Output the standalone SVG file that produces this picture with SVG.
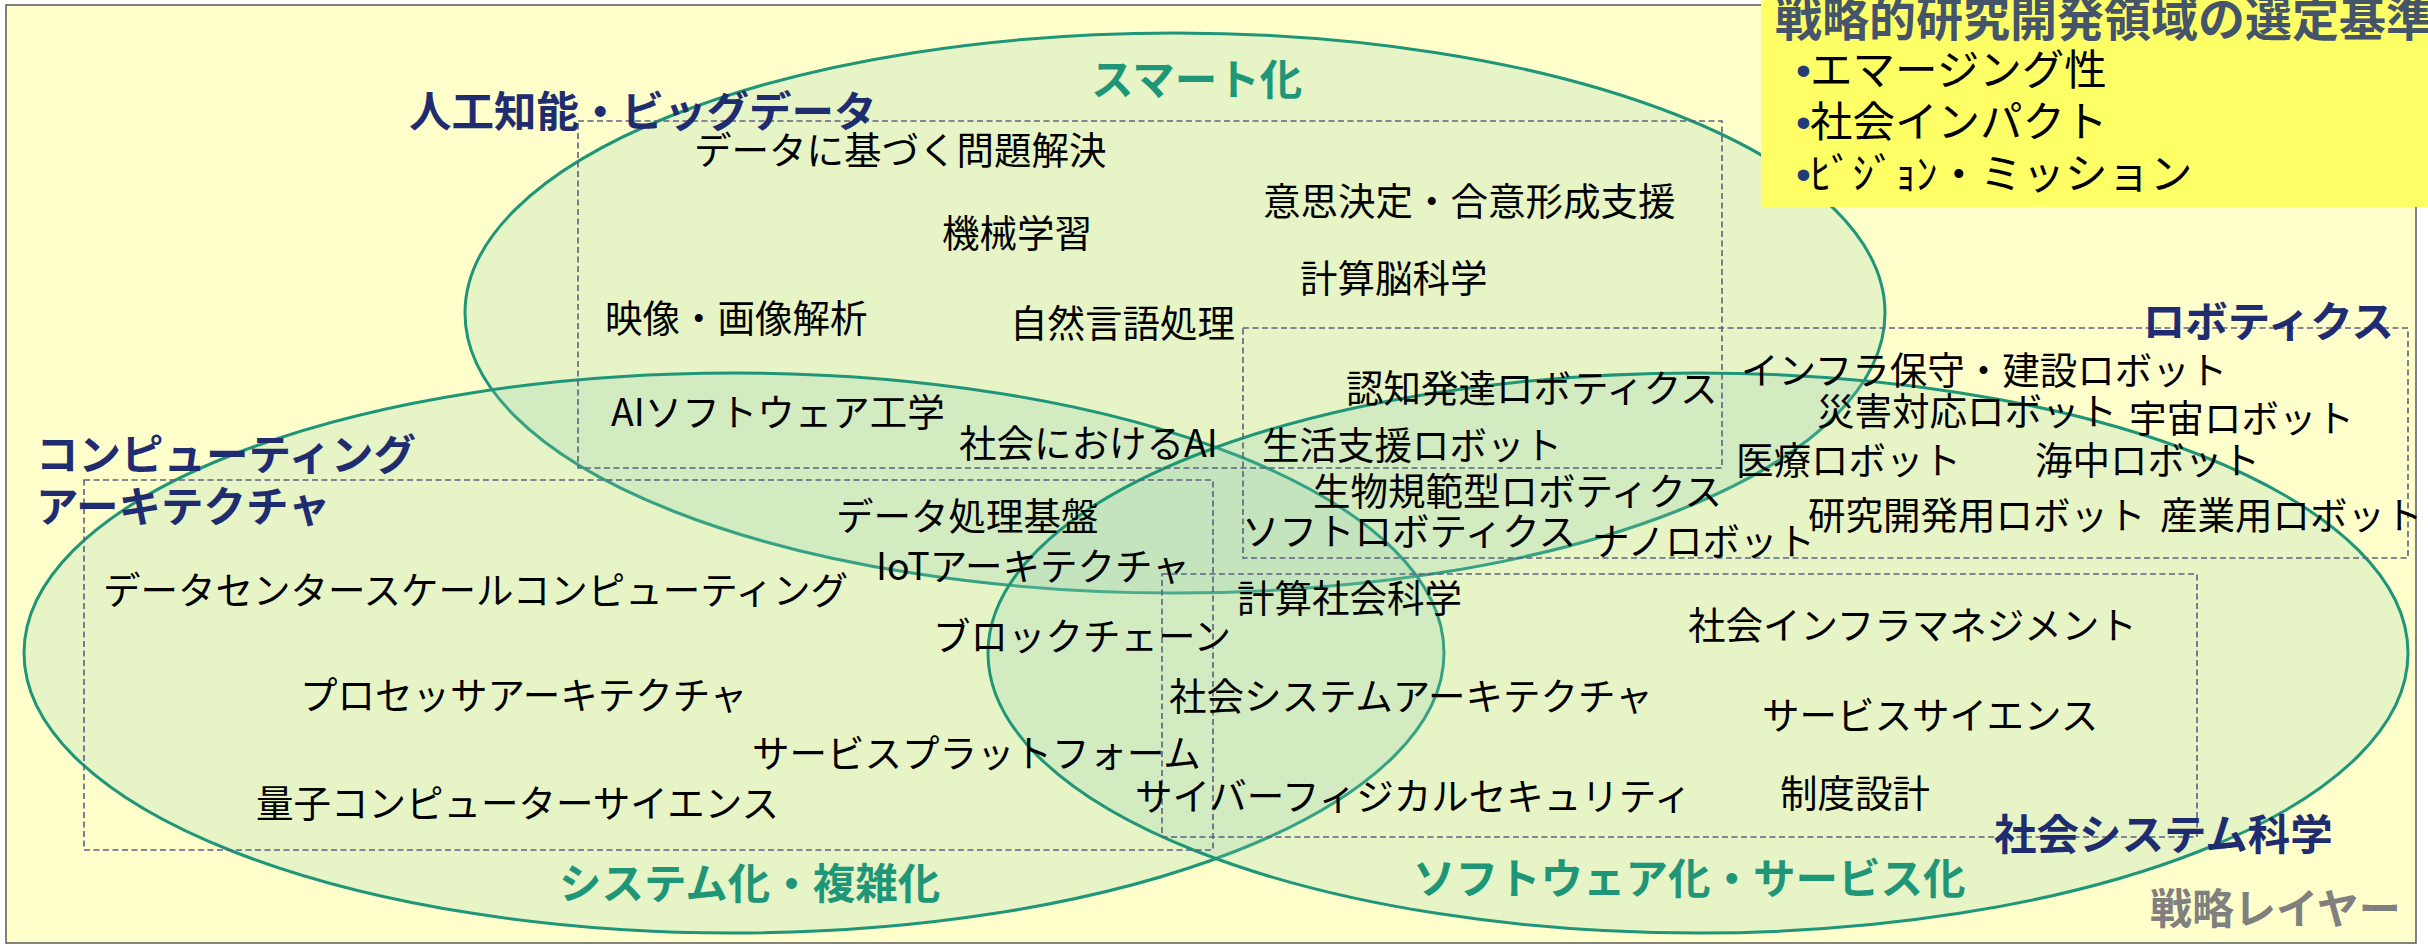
<svg xmlns="http://www.w3.org/2000/svg" width="2428" height="948" viewBox="0 0 2428 948">
<style>
.ell{fill:#8DCBB0;fill-opacity:0.22;stroke:#1E9677;stroke-width:3}
.box{fill:none;stroke:#5B6180;stroke-width:1.6;stroke-dasharray:6 3.5}
text{font-family:"Noto Sans CJK JP","Noto Sans",sans-serif}
.t{font-size:37.5px;fill:#000}
.cat{font-size:42.5px;font-weight:bold;fill:#1F2D70}
.grn{font-size:42.5px;font-weight:bold;fill:#1E9677}
.lay{font-size:42px;font-weight:bold;fill:#808080}
.ttl{font-size:47px;font-weight:bold;fill:#44546A}
.crit{font-size:42.5px;fill:#000}
.bul{font-family:"Liberation Sans",sans-serif;fill:#1F3C78}
</style>
<rect x="0" y="0" width="2428" height="948" fill="#FFFFFF"/>
<rect id="frame" x="6" y="5" width="2410" height="938" fill="#FFFFCC" stroke="#5A5A5A" stroke-width="1.5"/>

<g id="ellipse-smart">
<ellipse class="ell" cx="1175" cy="313" rx="710" ry="280"/>
<text class="grn" x="1091" y="95">スマート化</text>
</g>
<g id="ellipse-system">
<ellipse class="ell" cx="734" cy="653" rx="710" ry="280"/>
<text class="grn" x="559" y="899">システム化・複雑化</text>
</g>
<g id="ellipse-software">
<ellipse class="ell" cx="1698" cy="653" rx="710" ry="280"/>
<text class="grn" x="1413" y="894">ソフトウェア化・サービス化</text>
</g>

<g id="area-ai">
<rect class="box" x="578" y="121" width="1144" height="347"/>
<text class="cat" x="409" y="127">人工知能・ビッグデータ</text>
</g>
<g id="area-robotics">
<rect class="box" x="1243" y="328" width="1165" height="230"/>
<text class="cat" x="2394" y="337" text-anchor="end">ロボティクス</text>
</g>
<g id="area-computing">
<rect class="box" x="84" y="480" width="1129" height="370"/>
<text class="cat" x="36" y="470">コンピューティング</text>
<text class="cat" x="36" y="522">アーキテクチャ</text>
</g>
<g id="area-social">
<rect class="box" x="1162" y="574" width="1035" height="263"/>
<text class="cat" x="1994" y="850">社会システム科学</text>
</g>

<g id="items-ai">
<text class="t" x="694" y="164">データに基づく問題解決</text>
<text class="t" x="942" y="247">機械学習</text>
<text class="t" x="1263" y="215">意思決定・合意形成支援</text>
<text class="t" x="1300" y="292">計算脳科学</text>
<text class="t" x="1010" y="337">自然言語処理</text>
<text class="t" x="605" y="332">映像・画像解析</text>
<text class="t" x="611" y="426">AIソフトウェア工学</text>
<text class="t" x="959" y="457">社会におけるAI</text>
</g>
<g id="items-robotics">
<text class="t" x="1346" y="402">認知発達ロボティクス</text>
<text class="t" x="1262" y="459">生活支援ロボット</text>
<text class="t" x="1741" y="384">インフラ保守・建設ロボット</text>
<text class="t" x="1817" y="425">災害対応ロボット</text>
<text class="t" x="2129" y="432">宇宙ロボット</text>
<text class="t" x="1736" y="474">医療ロボット</text>
<text class="t" x="2035" y="474">海中ロボット</text>
<text class="t" x="1808" y="529">研究開発用ロボット</text>
<text class="t" x="2160" y="529">産業用ロボット</text>
<text class="t" x="1592" y="555">ナノロボット</text>
<text class="t" x="1313" y="505">生物規範型ロボティクス</text>
<text class="t" x="1242" y="545">ソフトロボティクス</text>
</g>
<g id="items-computing">
<text class="t" x="836" y="530">データ処理基盤</text>
<text class="t" x="876" y="580">IoTアーキテクチャ</text>
<text class="t" x="103" y="604">データセンタースケールコンピューティング</text>
<text class="t" x="933" y="650">ブロックチェーン</text>
<text class="t" x="300" y="709">プロセッサアーキテクチャ</text>
<text class="t" x="752" y="767">サービスプラットフォーム</text>
<text class="t" x="256" y="817">量子コンピューターサイエンス</text>
</g>
<g id="items-social">
<text class="t" x="1237" y="612">計算社会科学</text>
<text class="t" x="1169" y="710">社会システムアーキテクチャ</text>
<text class="t" x="1135" y="810">サイバーフィジカルセキュリティ</text>
<text class="t" x="1688" y="639">社会インフラマネジメント</text>
<text class="t" x="1762" y="729">サービスサイエンス</text>
<text class="t" x="1780" y="807">制度設計</text>
</g>

<g id="layer-label">
<text class="lay" x="2150" y="924">戦略レイヤー</text>
</g>

<g id="criteria">
<rect x="1761" y="0" width="667" height="207" fill="#FFFF66"/>
<text class="ttl" x="1775" y="36">戦略的研究開発領域の選定基準</text>
<text class="crit" y="85"><tspan class="bul" x="1796">•</tspan><tspan x="1810">エマージング性</tspan></text>
<text class="crit" y="137"><tspan class="bul" x="1796">•</tspan><tspan x="1810">社会インパクト</tspan></text>
<text class="crit" y="189"><tspan class="bul" x="1796">•</tspan><tspan x="1810">ﾋﾞｼﾞｮﾝ・ミッション</tspan></text>
</g>

<g id="connectors"/>
</svg>
